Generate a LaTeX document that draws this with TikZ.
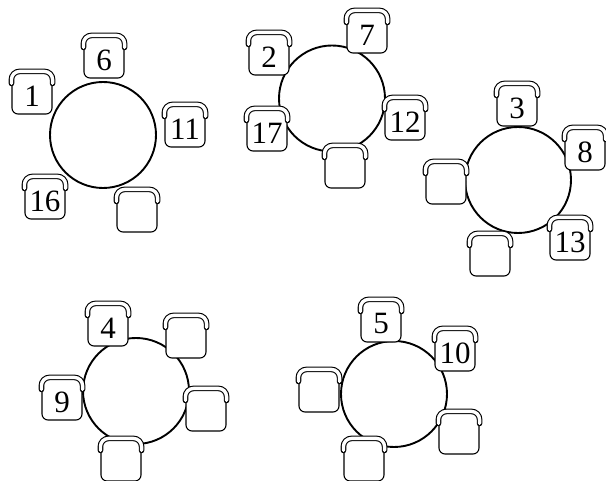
\documentclass[tikz,border=0pt]{standalone}
\usepackage{fontspec}
\setmainfont{Liberation Serif}
\usetikzlibrary{calc}
\tikzset{
  roundtable/.style={draw, circle, line width=1.9pt, minimum size=106pt, inner sep=0pt},
  seat/.style={draw, fill=white, rounded corners=6pt, line width=1.1pt,
               minimum width=40pt, minimum height=36pt, inner sep=0pt,
               font=\fontsize{31}{31}\selectfont},
  back/.style={draw, fill=white, line width=1.1pt, double=white, double distance=3.4pt,
               line cap=round, rounded corners=8pt}
}
% chair: seat node plus backrest on top of it
\newcommand{\chairat}[3]{%
  \node[seat] (#1) at (#2) {#3};
  \draw[back] ([yshift=-6pt]#1.north west) -- ([yshift=6pt]#1.north west)
     -- ([yshift=6pt]#1.north east) -- ([yshift=-6pt]#1.north east);
}
\begin{document}
\begin{tikzpicture}[x=1pt, y=-1pt]
  \useasboundingbox (0,0) rectangle (606,481);
  % tables
  \node[roundtable] (t1) at (103,135) {};
  \node[roundtable] (t2) at (332,98.5) {};
  \node[roundtable] (t3) at (518,180) {};
  \node[roundtable] (t4) at (136,391) {};
  \node[roundtable] (t5) at (394,394) {};
  % table 1
  \chairat{c1}{32,96}{1}
  \chairat{c6}{104,60}{6}
  \chairat{c11}{185,129}{11}
  \chairat{c16}{45,201}{16}
  \chairat{t1e}{137,214}{}
  % table 2
  \chairat{c2}{269,57}{2}
  \chairat{c7}{367,35}{7}
  \chairat{c12}{405,122}{12}
  \chairat{c17}{267,133}{17}
  \chairat{t2e}{345,170}{}
  % table 3
  \chairat{c3}{517,108}{3}
  \chairat{c8}{585,152}{8}
  \chairat{t3w}{446,186}{}
  \chairat{c13}{570,242}{13}
  \chairat{t3s}{490,258}{}
  % table 4
  \chairat{c4}{108,328}{4}
  \chairat{t4n}{186,340}{}
  \chairat{c9}{62,402}{9}
  \chairat{t4e}{206,413}{}
  \chairat{t4s}{121,463}{}
  % table 5
  \chairat{c5}{381,324}{5}
  \chairat{c10}{455,353}{10}
  \chairat{t5w}{319,394}{}
  \chairat{t5e}{459,436}{}
  \chairat{t5s}{364,463}{}
\end{tikzpicture}
\end{document}
